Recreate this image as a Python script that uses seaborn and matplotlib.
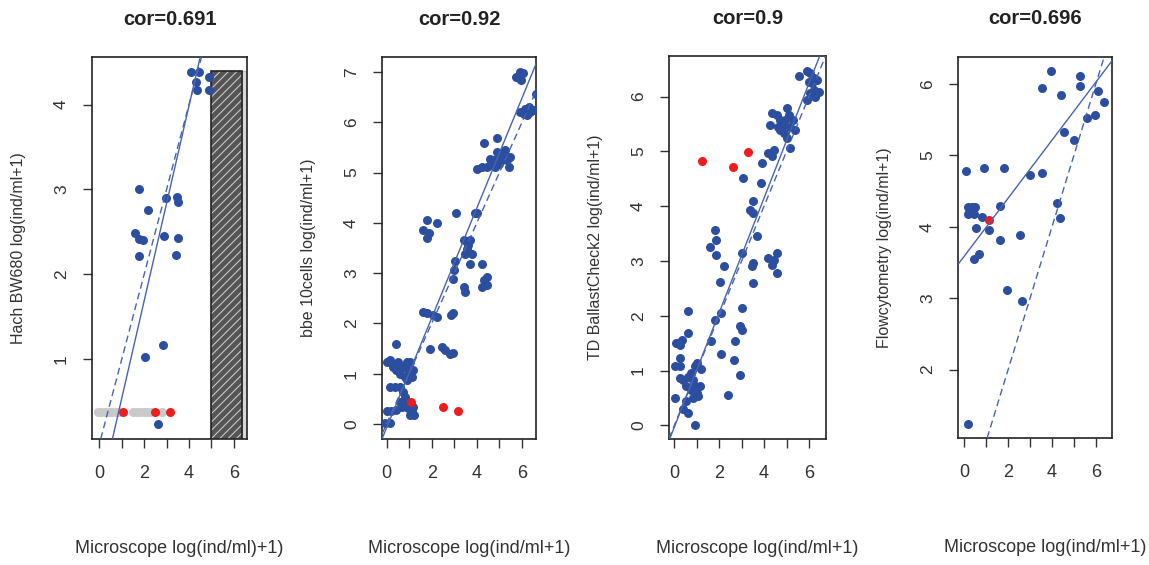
import matplotlib
matplotlib.use("Agg")
import matplotlib.pyplot as plt
import seaborn as sns
from matplotlib.patches import Rectangle

# ---- data ----
x_label = ["Microscope log(ind/ml)+1)", "Microscope log(ind/ml+1)",
           "Microscope log(ind/ml+1)", "Microscope log(ind/ml+1)"]
y_label = ["Hach BW680 log(ind/ml+1)", "bbe 10cells log(ind/ml+1)",
           "TD BallastCheck2 log(ind/ml+1)", "Flowcytometry log(ind/ml+1)"]
cor_text = ["cor=0.691", "cor=0.92", "cor=0.9", "cor=0.696"]

# panel 1 : Hach BW680
p1_blue_x = [4.09, 4.45, 4.30, 4.35, 4.88, 4.91, 1.77, 2.16, 2.96, 3.45, 3.53,
             1.59, 1.79, 1.94, 1.75, 2.89, 3.50, 3.43, 2.05, 2.83, 2.62]
p1_blue_y = [4.38, 4.38, 4.27, 4.17, 4.33, 4.17, 3.00, 2.76, 2.90, 2.91, 2.85,
             2.48, 2.41, 2.40, 2.22, 2.45, 2.43, 2.23, 1.02, 1.17, 0.23]
p1_gray_x = [-0.08, 0.08, 0.25, 0.42, 0.58, 0.75, 0.88, 1.50, 1.66, 1.82, 1.98,
             2.14, 2.30, 2.80]
p1_gray_y = [0.38] * len(p1_gray_x)
p1_red_x = [1.07, 2.49, 3.13]
p1_red_y = [0.38, 0.38, 0.38]
p1_box = [5.0, 6.37, 4.40]  # hatched block: x from, x to, top

# panel 2 : bbe 10cells
p2_blue_x = [-0.07, 0.15, 0.00, 0.22, 0.44, 0.67, 0.81, 0.96, 1.11, 1.19, 1.04,
             1.21, 0.37, 0.15, 0.59, 0.74, 0.81, 0.59, 0.89, 1.11, 1.19, 0.96,
             0.74, 0.89, 1.04, 0.52, 0.15, 0.00, 0.30, 0.44, 0.59, 0.41, 0.81,
             1.78, 2.22, 1.63, 1.90, 1.78, 3.07, 3.90, 4.00, 3.41, 3.70, 3.56,
             3.48, 3.78, 3.60, 2.96, 3.00, 3.05, 3.70, 4.22, 3.41, 3.48, 4.30,
             4.44, 4.22, 4.44, 2.93, 2.84, 1.63, 1.78, 2.07, 2.22, 1.93, 2.44,
             2.59, 2.81, 2.93,
             4.00, 4.30, 4.90, 4.60, 5.20, 5.33, 5.48, 4.22, 4.44, 4.74, 4.96,
             5.11, 4.89, 5.26, 4.59, 5.41, 4.81, 5.04,
             5.85, 6.05, 5.97, 5.72, 5.90,
             5.93, 6.15, 6.30, 6.37, 6.52, 6.07, 6.20, 6.60]
p2_blue_y = [0.01, 0.01, 0.25, 0.25, 0.28, 0.34, 0.38, 0.31, 0.28, 0.34, 0.18,
             0.18, 0.74, 0.74, 0.74, 0.64, 0.54, 0.44, 0.87, 0.94, 1.07, 1.07,
             1.14, 1.24, 1.24, 1.24, 1.27, 1.24, 1.14, 1.07, 1.00, 1.60, 0.94,
             4.05, 4.00, 3.85, 3.79, 3.69, 4.20, 4.20, 4.19, 3.66, 3.66, 3.49,
             3.39, 3.39, 3.55, 2.89, 3.06, 3.25, 3.19, 3.19, 2.73, 2.63, 2.86,
             2.76, 2.73, 2.93, 2.20, 2.17, 2.23, 2.21, 2.17, 2.13, 1.50, 1.54,
             1.47, 1.40, 1.42,
             5.08, 5.58, 5.68, 5.28, 5.38, 5.25, 5.31, 5.11, 5.11, 5.25, 5.18,
             5.25, 5.41, 5.44, 5.15, 5.11, 5.11, 5.31,
             6.89, 6.98, 6.85, 6.90, 7.00,
             6.20, 6.27, 6.30, 6.20, 6.24, 6.17, 6.15, 6.57]
p2_red_x = [1.07, 2.52, 3.16]
p2_red_y = [0.44, 0.33, 0.25]

# panel 3 : TD BallastCheck2
p3_blue_x = [3.07, 5.57, 5.91, 6.06, 6.21, 6.36, 6.13, 5.99, 6.21, 6.06, 5.91,
             6.28, 6.43,
             4.34, 4.57, 4.27, 4.72, 4.87, 5.01, 5.09, 4.72, 4.87, 5.16, 5.31,
             5.39, 5.01, 5.16, 4.64, 4.94,
             4.19, 4.34, 4.42, 3.90, 3.85, 3.52, 3.37, 3.52, 3.67, 3.00, 3.52,
             3.45, 3.52, 4.19, 4.42, 4.57, 4.34, 4.57,
             1.81, 1.85, 1.58, 1.85, 2.21, 2.03, 2.10, 1.81, 1.63, 2.10, 3.03,
             2.93, 3.03, 2.70, 2.66, 2.93, 2.40,
             0.61, 0.61, 0.36, 0.09, 0.24, 0.24, 0.01, 0.24, 0.24, 0.39, 0.61,
             0.76, 0.84, 0.91, 0.76, 0.99, 1.06, 0.84, 0.51, 0.39, 0.61, 0.01,
             0.91, 1.03, 1.18, 0.91, 0.54, 1.13]
p3_blue_y = [4.52, 6.38, 6.46, 6.43, 6.33, 6.30, 6.24, 6.27, 6.12, 6.06, 5.94,
             6.00, 6.09,
             5.70, 5.67, 5.48, 5.57, 5.48, 5.79, 5.67, 5.39, 5.33, 5.45, 5.57,
             5.39, 5.24, 5.06, 5.45, 5.57,
             4.97, 4.91, 5.03, 4.78, 4.43, 4.09, 3.93, 3.87, 3.45, 3.14, 2.96,
             2.90, 2.60, 3.05, 3.02, 3.14, 2.93, 2.78,
             3.57, 3.39, 3.25, 3.11, 2.90, 2.61, 2.05, 1.93, 1.53, 1.31, 2.14,
             1.81, 1.74, 1.53, 1.20, 0.92, 0.56,
             2.08, 1.68, 1.56, 1.50, 1.47, 1.23, 1.09, 1.08, 0.86, 0.83, 0.89,
             0.95, 0.83, 0.71, 0.65, 0.59, 0.53, 0.50, 0.44, 0.29, 0.22, 0.50,
             0.01, 1.14, 1.02, 1.08, 0.71, 0.71]
p3_red_x = [1.21, 2.63, 3.27]
p3_red_y = [4.83, 4.72, 4.98]

# panel 4 : Flowcytometry
p4_blue_x = [0.15, 0.06, 0.91, 1.82, 0.15, 0.35, 0.50, 0.15, 0.42, 0.27, 0.55,
             0.80, 1.11, 0.67, 0.42, 1.61, 1.61, 1.94, 2.65, 2.52, 3.00, 3.53,
             3.53, 3.94, 4.39, 4.55, 4.24, 4.36, 5.02, 5.27, 5.27, 5.61, 5.95,
             6.11, 6.38]
p4_blue_y = [1.23, 4.78, 4.82, 4.82, 4.28, 4.28, 4.28, 4.18, 4.18, 4.23, 3.98,
             4.14, 3.95, 3.62, 3.55, 4.29, 3.81, 3.12, 2.96, 3.88, 4.72, 4.75,
             5.94, 6.18, 5.85, 5.33, 4.33, 4.12, 5.22, 6.11, 5.97, 5.53, 5.57,
             5.91, 5.75]
p4_red_x = [1.11]
p4_red_y = [4.10]

# fitted lm line (intercept, slope) per panel, the dashed one is y = x
fit_intercept = [-0.608, -0.08, -0.03, 3.59]
fit_slope = [1.148, 1.094, 1.045, 0.406]

x_lims = [(-0.33, 6.59), (-0.20, 6.62), (-0.24, 6.76), (-0.29, 6.74)]
y_lims = [(0.058, 4.56), (-0.30, 7.30), (-0.25, 6.74), (1.04, 6.38)]
y_ticks = [[1, 2, 3, 4], list(range(8)), list(range(7)), [2, 3, 4, 5, 6]]

blue_x = [p1_blue_x, p2_blue_x, p3_blue_x, p4_blue_x]
blue_y = [p1_blue_y, p2_blue_y, p3_blue_y, p4_blue_y]
red_x = [p1_red_x, p2_red_x, p3_red_x, p4_red_x]
red_y = [p1_red_y, p2_red_y, p3_red_y, p4_red_y]

# ---- styling ----
sns.set_theme(style="white")
plt.rcParams["font.family"] = ["Liberation Sans", "DejaVu Sans"]
plt.rcParams["hatch.linewidth"] = 0.8

BLUE = "#2c4e9f"
RED = "#ee1c1c"
GRAY = "#c9c9c9"
LINE = "#4864b0"
TXT = "#333333"
PT = 42

W, H = 1149, 565
fig = plt.figure(figsize=(W / 100, H / 100), dpi=100)

# axes boxes in pixels: left, top, right, bottom
boxes = [(92, 57, 247, 439), (382, 57, 536, 439), (669, 56, 826, 439), (958, 57, 1112, 438)]

for i, (l, t, r, b) in enumerate(boxes):
    ax = fig.add_axes([l / W, (H - b) / H, (r - l) / W, (b - t) / H])
    ax.set_xlim(*x_lims[i])
    ax.set_ylim(*y_lims[i])

    if i == 0:
        # grey points under the detection limit, then the hatched block
        sns.scatterplot(x=p1_gray_x, y=p1_gray_y, color=GRAY, s=PT, linewidth=0, ax=ax, zorder=2)
        y0 = y_lims[0][0] - 0.2
        x0, x1, top = p1_box
        ax.add_patch(Rectangle((x1, y0), x_lims[0][1] - x1, top - y0, facecolor="#d8d8d8",
                               edgecolor="#bbbbbb", lw=0.8, zorder=1))
        ax.add_patch(Rectangle((x0, y0), x1 - x0, top - y0, facecolor="#555555",
                               edgecolor="#c8c8c8", hatch="////", lw=0, zorder=1))
        ax.add_patch(Rectangle((x0, y0), x1 - x0, top - y0, fill=False,
                               edgecolor="#222222", lw=1.2, zorder=1))

    sns.scatterplot(x=blue_x[i], y=blue_y[i], color=BLUE, s=PT, linewidth=0, ax=ax, zorder=3)
    sns.scatterplot(x=red_x[i], y=red_y[i], color=RED, s=PT, linewidth=0, ax=ax, zorder=4)

    ax.axline((0, fit_intercept[i]), slope=fit_slope[i], color=LINE, lw=1.0, zorder=5)
    ax.axline((0, 0), slope=1, color=LINE, lw=1.0, ls=(0, (5, 3)), zorder=5)

    ax.set_xticks(range(7))
    ax.set_xticklabels(["0", "", "2", "", "4", "", "6"])
    ax.set_yticks(y_ticks[i])
    ax.set_yticklabels([str(v) for v in y_ticks[i]], rotation=90, va="center")

    ax.tick_params(axis="both", direction="out", length=6.5, width=1.0, color=TXT,
                   labelcolor=TXT, left=True, bottom=True)
    ax.tick_params(axis="x", pad=12, labelsize=13)
    ax.tick_params(axis="y", pad=10, labelsize=12.5)
    for sp in ax.spines.values():
        sp.set_visible(True)
        sp.set_color("#222222")
        sp.set_linewidth(1.2)

    w_px = r - l
    h_px = b - t
    ax.set_xlabel(x_label[i], fontsize=13, color=TXT)
    ax.xaxis.set_label_coords(0.5 + 10 / w_px, -101 / h_px)
    ax.set_ylabel(y_label[i], fontsize=11.5, color=TXT)
    ax.yaxis.set_label_coords(-66 / w_px, 0.5)

    ax.text(0.5, 1 + 38 / h_px, cor_text[i], transform=ax.transAxes, ha="center",
            va="center", fontsize=14.5, fontweight="bold", color="#222222")

fig.savefig("out.png", dpi=100)
